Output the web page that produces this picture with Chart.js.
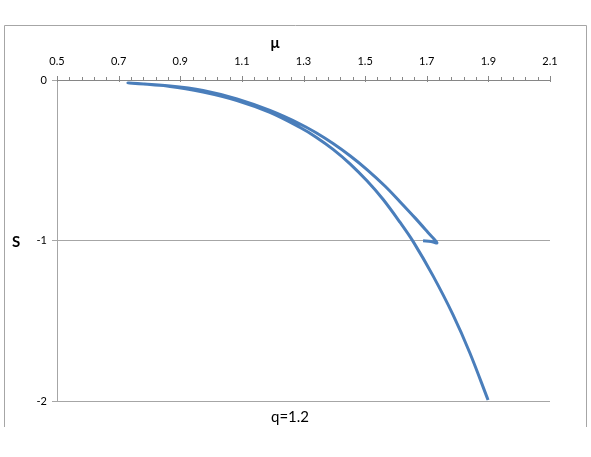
<!DOCTYPE html>
<html>
<head>
<meta charset="utf-8">
<script src="https://cdn.jsdelivr.net/npm/chart.js@4.4.0/dist/chart.umd.min.js"></script>
<style>
  html, body { margin: 0; padding: 0; background: #fff; }
  #wrap { width: 591px; height: 457px; }
</style>
</head>
<body>
<div id="wrap"><canvas id="sChart" width="591" height="457"></canvas></div>
<script>
// curve, in drawing order:
// lower branch from the bottom up to the left end, then the upper branch out to the cusp and its small hook
const muValues = [1.899, 1.840, 1.785, 1.720, 1.656, 1.613, 1.558, 1.506, 1.451, 1.396, 1.341, 1.289, 1.191, 1.084, 0.974, 0.867, 0.730,
                  0.867, 0.974, 1.084, 1.191, 1.289, 1.341, 1.396, 1.451, 1.506, 1.565, 1.613, 1.662, 1.704, 1.733, 1.714, 1.688];
const sValues  = [-1.994, -1.701, -1.462, -1.219, -1.007, -0.886, -0.743, -0.628, -0.522, -0.432, -0.356, -0.296, -0.202, -0.128, -0.075, -0.040, -0.019,
                  -0.037, -0.065, -0.118, -0.190, -0.274, -0.329, -0.396, -0.472, -0.558, -0.662, -0.758, -0.859, -0.950, -1.014, -1.006, -1.001];
const xMajorTicks = [0.5, 0.7, 0.9, 1.1, 1.3, 1.5, 1.7, 1.9, 2.1];
const yTicks = [0, -1, -2];

const points = muValues.map((m, i) => ({ x: m, y: sValues[i] }));
const gray = '#a6a6a6';

const decor = {
  id: 'decor',
  afterDraw(chart) {
    const c = chart.ctx;
    const xs = chart.scales.x;
    const area = chart.chartArea;
    c.save();
    // outer frame
    c.strokeStyle = gray;
    c.lineWidth = 1;
    c.beginPath();
    c.moveTo(4.5, 427);
    c.lineTo(4.5, 25.5);
    c.lineTo(586.5, 25.5);
    c.lineTo(586.5, 427);
    c.stroke();
    // tick marks on the top axis
    c.strokeStyle = '#868686';
    c.beginPath();
    xs.ticks.forEach(t => {
      const px = Math.round(xs.getPixelForValue(t.value)) + 0.5;
      const major = xMajorTicks.some(v => Math.abs(v - t.value) < 1e-6);
      c.moveTo(px, area.top - (major ? 4 : 3));
      c.lineTo(px, area.top + (major ? 2 : 0));
    });
    c.stroke();
    // texts
    c.fillStyle = '#000';
    c.textAlign = 'center';
    c.textBaseline = 'middle';
    c.font = 'bold 15px Lato';
    c.fillText('\u03bc', 275, 43);
    c.fillText('S', 16, 242);
    c.font = '15px Lato';
    c.fillText('q=1.2', 290, 417);
    c.restore();
  }
};

new Chart(document.getElementById('sChart').getContext('2d'), {
  type: 'scatter',
  data: {
    datasets: [{
      label: 'S',
      data: points,
      showLine: true,
      borderColor: '#4a7ebb',
      borderWidth: 3,
      borderJoinStyle: 'round',
      pointRadius: 0,
      tension: 0.35,
      fill: false
    }]
  },
  options: {
    responsive: false,
    animation: false,
    layout: { padding: { top: 25, left: 0, right: 41, bottom: 56 } },
    plugins: { legend: { display: false }, tooltip: { enabled: false } },
    scales: {
      x: {
        type: 'linear',
        position: 'top',
        min: 0.5,
        max: 2.1,
        afterFit(s) { s.height = 55; },
        ticks: {
          stepSize: 0.04,
          autoSkip: false,
          maxRotation: 0,
          padding: 12,
          color: '#000',
          font: { family: 'Lato', size: 11 },
          callback: v => xMajorTicks.some(m => Math.abs(m - v) < 1e-6) ? v.toFixed(1) : ''
        },
        grid: { display: true, drawOnChartArea: false, drawTicks: false },
        border: { display: true, color: '#868686', width: 1 }
      },
      y: {
        type: 'linear',
        min: -2,
        max: 0,
        afterFit(s) { s.width = 57; },
        afterBuildTicks(s) { s.ticks = yTicks.map(v => ({ value: v })); },
        ticks: {
          padding: 5,
          color: '#000',
          font: { family: 'Lato', size: 11 },
          callback: v => String(v)
        },
        grid: { color: gray, tickLength: 5, drawOnChartArea: true },
        border: { display: true, color: gray, width: 1 }
      }
    }
  },
  plugins: [decor]
});
</script>
</body>
</html>
